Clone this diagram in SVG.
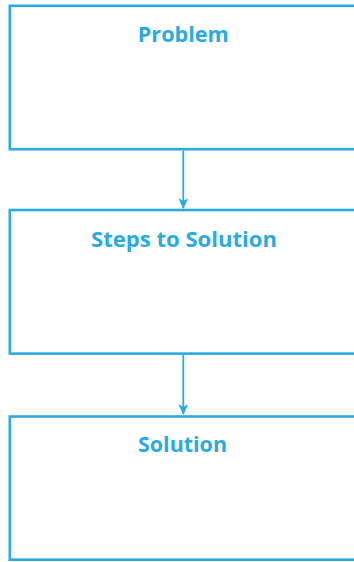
<svg xmlns="http://www.w3.org/2000/svg" width="354" height="562" viewBox="0 0 354 562">
<style>
.box{fill:#fff;stroke:#29abe2;stroke-width:2.6}
.lbl{fill:#29abe2;font-family:"Open Sans",Lato,sans-serif;font-weight:bold;font-size:21px;text-anchor:middle}
.conn{stroke:#29abe2;stroke-width:1.8;fill:none}
</style>
<defs>
<marker id="ah" markerWidth="11" markerHeight="10" refX="10" refY="5" orient="auto" markerUnits="userSpaceOnUse">
<path d="M0,0 L11,5 L0,10 L3,5 Z" fill="#29abe2"/>
</marker>
</defs>
<rect width="354" height="562" fill="#fff"/>
<g id="problem"><rect class="box" x="9.8" y="5.8" width="360" height="143.4"/><text class="lbl" x="183.3" y="42" textLength="91" lengthAdjust="spacingAndGlyphs">Problem</text></g>
<g id="steps"><rect class="box" x="9.8" y="210" width="360" height="143.6"/><text class="lbl" x="184" y="247" textLength="186" lengthAdjust="spacingAndGlyphs">Steps to Solution</text></g>
<g id="solution"><rect class="box" x="9.8" y="416.5" width="360" height="143.2"/><text class="lbl" x="182.5" y="451.5" textLength="89" lengthAdjust="spacingAndGlyphs">Solution</text></g>
<g id="connectors">
<line class="conn" x1="183.3" y1="150.5" x2="183.3" y2="208" marker-end="url(#ah)"/>
<line class="conn" x1="183.3" y1="355" x2="183.3" y2="414" marker-end="url(#ah)"/>
</g>
</svg>
